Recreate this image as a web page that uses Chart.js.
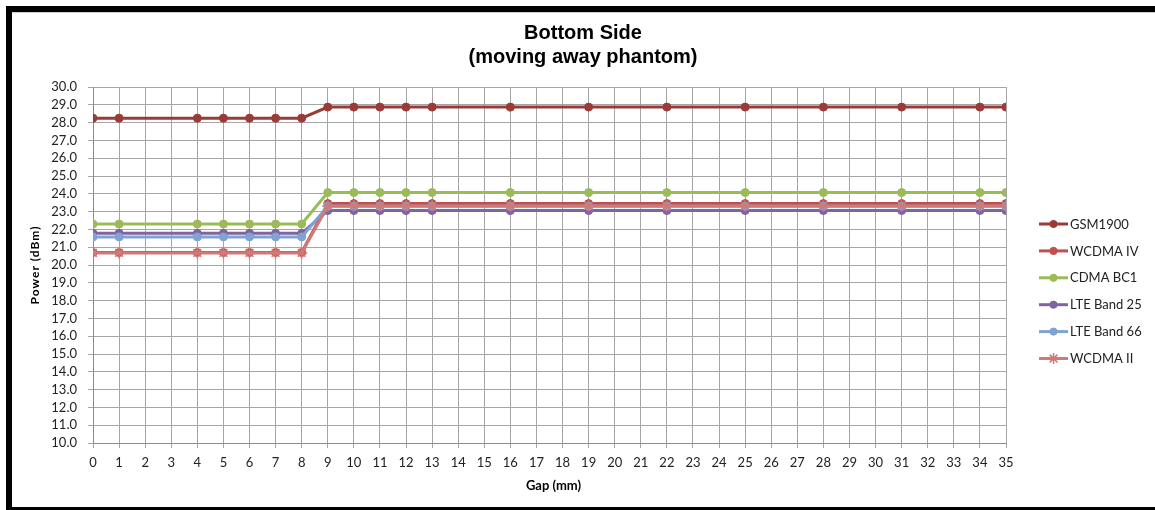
<!DOCTYPE html>
<html>
<head>
<meta charset="utf-8">
<script src="https://cdn.jsdelivr.net/npm/chart.js@4"></script>
<style>
  html, body { margin: 0; padding: 0; background: #fff; overflow: hidden; }
  #c { position: absolute; left: 0; top: 0; }
</style>
</head>
<body>
<canvas id="c" width="1155" height="510"></canvas>
<script>
// ---- data ----
const chartTitle = ['Bottom Side', '(moving away phantom)'];
const xTitle = 'Gap (mm)';
const yTitle = 'Power (dBm)';
const gaps = [0, 1, 4, 5, 6, 7, 8, 9, 10, 11, 12, 13, 16, 19, 22, 25, 28, 31, 34, 35];
const seriesNames = ['GSM1900', 'WCDMA IV', 'CDMA BC1', 'LTE Band 25', 'LTE Band 66', 'WCDMA II'];
const gsm1900   = [28.25, 28.25, 28.25, 28.25, 28.25, 28.25, 28.25, 28.87, 28.87, 28.87, 28.87, 28.87, 28.87, 28.87, 28.87, 28.87, 28.87, 28.87, 28.87, 28.87];
const wcdmaIV   = [20.70, 20.70, 20.70, 20.70, 20.70, 20.70, 20.70, 23.45, 23.45, 23.45, 23.45, 23.45, 23.45, 23.45, 23.45, 23.45, 23.45, 23.45, 23.45, 23.45];
const cdmaBC1   = [22.30, 22.30, 22.30, 22.30, 22.30, 22.30, 22.30, 24.07, 24.07, 24.07, 24.07, 24.07, 24.07, 24.07, 24.07, 24.07, 24.07, 24.07, 24.07, 24.07];
const lteBand25 = [21.78, 21.78, 21.78, 21.78, 21.78, 21.78, 21.78, 23.06, 23.06, 23.06, 23.06, 23.06, 23.06, 23.06, 23.06, 23.06, 23.06, 23.06, 23.06, 23.06];
const lteBand66 = [21.58, 21.58, 21.58, 21.58, 21.58, 21.58, 21.58, 23.30, 23.30, 23.30, 23.30, 23.30, 23.30, 23.30, 23.30, 23.30, 23.30, 23.30, 23.30, 23.30];
const wcdmaII   = [20.68, 20.68, 20.68, 20.68, 20.68, 20.68, 20.68, 23.32, 23.32, 23.32, 23.32, 23.32, 23.32, 23.32, 23.32, 23.32, 23.32, 23.32, 23.32, 23.32];
const seriesValues = [gsm1900, wcdmaIV, cdmaBC1, lteBand25, lteBand66, wcdmaII];
const xMin = 0, xMax = 35, yMin = 10, yMax = 30;

// ---- styles ----
const colors = ['#9b3b38', '#c0504d', '#9bbb59', '#8064a2', '#7ea3d4', '#d07a78'];
const markers = ['circle', 'circle', 'circle', 'circle', 'circle', 'star'];
const FONT = 'Lato, "Open Sans", sans-serif';

const datasets = seriesNames.map((name, i) => ({
  label: name,
  data: gaps.map((g, j) => ({ x: g, y: seriesValues[i][j] })),
  borderColor: colors[i],
  backgroundColor: colors[i],
  borderWidth: 3,
  pointStyle: markers[i],
  pointRadius: markers[i] === 'star' ? 5.5 : 4,
  pointBorderWidth: markers[i] === 'star' ? 1.5 : 1,
  pointBorderColor: colors[i],
  pointBackgroundColor: colors[i],
  tension: 0,
  order: seriesNames.length - i
}));

const frame = {
  id: 'frame',
  beforeDraw(chart) {
    const ctx = chart.ctx;
    ctx.save();
    ctx.fillStyle = '#fff';
    ctx.fillRect(0, 0, 1155, 510);
    ctx.fillStyle = '#000';
    ctx.fillRect(6, 6, 1149, 6);
    ctx.fillRect(6, 6, 6, 504);
    ctx.fillRect(6, 507, 1149, 3);
    ctx.fillStyle = '#d0d0d0';
    ctx.fillRect(12, 12, 1143, 1);
    ctx.restore();
  }
};

const decor = {
  id: 'decor',
  afterDraw(chart) {
    const ctx = chart.ctx;
    const ca = chart.chartArea;
    ctx.save();
    // Title
    ctx.fillStyle = '#000';
    ctx.font = 'bold 20px "Liberation Sans", Arial, sans-serif';
    ctx.textAlign = 'center';
    ctx.textBaseline = 'middle';
    ctx.fillText(chartTitle[0], 583, 33);
    ctx.fillText(chartTitle[1], 583, 57);
    // X title
    ctx.font = 'bold 13px ' + FONT;
    ctx.fillText(xTitle, (ca.left + ca.right) / 2 + 4, 486);
    // Y title
    ctx.save();
    ctx.translate(35, (ca.top + ca.bottom) / 2);
    ctx.rotate(-Math.PI / 2);
    ctx.font = 'bold 12px ' + FONT;
    try { ctx.letterSpacing = '1px'; } catch (e) {}
    ctx.fillText(yTitle, 0, 0);
    ctx.restore();
    // Legend
    ctx.textAlign = 'left';
    ctx.font = '13px ' + FONT;
    chart.data.datasets.forEach((ds, i) => {
      const y = 224 + i * 26.9;
      ctx.strokeStyle = ds.borderColor;
      ctx.fillStyle = ds.borderColor;
      ctx.lineWidth = 3;
      ctx.beginPath();
      ctx.moveTo(1039, y);
      ctx.lineTo(1068, y);
      ctx.stroke();
      ctx.lineWidth = ds.pointBorderWidth;
      Chart.helpers.drawPoint(ctx, {
        pointStyle: ds.pointStyle,
        radius: ds.pointStyle === 'star' ? ds.pointRadius : 3.6,
        borderWidth: ds.pointBorderWidth,
        rotation: 0
      }, 1053.5, y);
      ctx.fillStyle = '#222';
      ctx.fillText(ds.label, 1070, y + 0.5);
    });
    ctx.restore();
  }
};

new Chart(document.getElementById('c'), {
  type: 'line',
  data: { datasets },
  options: {
    responsive: false,
    animation: false,
    devicePixelRatio: 1,
    layout: { padding: { top: 87, left: 0, right: 1155 - 1006, bottom: 0 } },
    plugins: { legend: { display: false }, title: { display: false }, tooltip: { enabled: false } },
    scales: {
      x: {
        type: 'linear',
        min: xMin, max: xMax,
        afterFit(s) { s.height = 510 - 443; },
        ticks: { stepSize: 1, autoSkip: false, color: '#222', font: { family: FONT, size: 13 }, padding: 7, maxRotation: 0 },
        grid: { color: '#a6a6a6', lineWidth: 1, tickLength: 5, drawTicks: true },
        border: { color: '#8c8c8c', width: 1 }
      },
      y: {
        type: 'linear',
        min: yMin, max: yMax,
        afterFit(s) { s.width = 93; },
        ticks: { stepSize: 1, autoSkip: false, color: '#222', font: { family: FONT, size: 13 }, padding: 11,
                 callback: v => Number(v).toFixed(1) },
        grid: { color: '#a6a6a6', lineWidth: 1, tickLength: 5, drawTicks: true },
        border: { color: '#8c8c8c', width: 1 }
      }
    }
  },
  plugins: [frame, decor]
});
</script>
</body>
</html>
